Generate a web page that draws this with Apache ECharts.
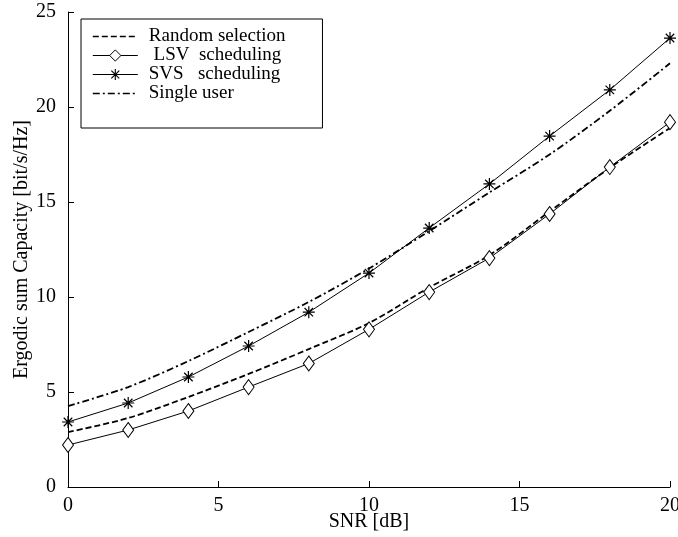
<!DOCTYPE html>
<html>
<head>
<meta charset="utf-8">
<script src="https://cdn.jsdelivr.net/npm/echarts@6/dist/echarts.min.js"></script>
<style>html,body{margin:0;padding:0;background:#fff;}#c{width:678px;height:537px;}</style>
</head>
<body>
<div id="c"></div>
<script>
var snr = [0, 2, 4, 6, 8, 10, 12, 14, 16, 18, 20];
var randomSel = [2.89, 3.63, 4.74, 5.95, 7.26, 8.63, 10.5, 12.2, 14.5, 16.8, 18.9];
var lsv = [2.21, 3.0, 4.0, 5.26, 6.5, 8.3, 10.26, 12.05, 14.37, 16.84, 19.2];
var svs = [3.42, 4.42, 5.79, 7.42, 9.2, 11.26, 13.63, 15.95, 18.47, 20.9, 23.63];
var single = [4.26, 5.26, 6.63, 8.16, 9.74, 11.5, 13.47, 15.5, 17.5, 19.8, 22.3];
var seriesNames = ['Random selection', ' LSV  scheduling', 'SVS   scheduling', 'Single user'];
var xTicks = [0, 5, 10, 15, 20];
var yTicks = [0, 5, 10, 15, 20, 25];

function pairs(ys) { return snr.map(function (x, i) { return [x, ys[i]]; }); }

var FONT = 'Liberation Serif';
var star = 'path://M9.1,1 L10.9,1 L10.9,19 L9.1,19 Z M1,9.1 L19,9.1 L19,10.9 L1,10.9 Z M4.28,3 L17,15.72 L15.72,17 L3,4.28 Z M15.72,3 L17,4.28 L4.28,17 L3,15.72 Z';

var chart = echarts.init(document.getElementById('c'), null, {renderer: 'canvas'});
chart.setOption({
  backgroundColor: '#fff',
  animation: false,
  textStyle: {fontFamily: FONT, color: '#000'},
  grid: {left: 68, right: 8, top: 12, bottom: 50, containLabel: false, outerBoundsMode: 'none'},
  legend: {
    orient: 'vertical',
    left: 81, top: 19,
    padding: [8, 37, 25, 11],
    borderColor: '#000', borderWidth: 1,
    backgroundColor: '#fff',
    itemWidth: 45, itemHeight: 14, itemGap: 0,
    textStyle: {fontFamily: FONT, fontSize: 19, color: '#000', lineHeight: 18, padding: [0, 0, 0, 6]},
    data: [
      {name: seriesNames[0], lineStyle: {width: 1.6}},
      {name: seriesNames[1], lineStyle: {width: 1}, itemStyle: {borderWidth: 1, borderColor: '#000', color: '#fff'}},
      {name: seriesNames[2], lineStyle: {width: 1}, itemStyle: {borderWidth: 0}},
      {name: seriesNames[3], lineStyle: {width: 1.6}}
    ]
  },
  xAxis: {
    type: 'value', min: 0, max: 20, interval: 5,
    name: 'SNR [dB]', nameLocation: 'middle', nameGap: 25, nameMoveOverlap: false,
    nameTextStyle: {fontFamily: FONT, fontSize: 20, color: '#000'},
    axisLine: {lineStyle: {color: '#000', width: 1}},
    axisTick: {inside: true, length: 6, lineStyle: {color: '#000'}},
    axisLabel: {margin: 9, fontFamily: FONT, fontSize: 20, color: '#000',
      formatter: function (v) { return xTicks.indexOf(v) >= 0 ? String(v) : ''; }},
    splitLine: {show: false}
  },
  yAxis: {
    type: 'value', min: 0, max: 25, interval: 5,
    name: 'Ergodic sum Capacity [bit/s/Hz]', nameLocation: 'middle', nameGap: 36, nameMoveOverlap: false,
    nameTextStyle: {fontFamily: FONT, fontSize: 20, color: '#000'},
    axisLine: {show: true, lineStyle: {color: '#000', width: 1}},
    axisTick: {show: true, inside: true, length: 6, lineStyle: {color: '#000'}},
    axisLabel: {margin: 12, fontFamily: FONT, fontSize: 20, color: '#000',
      formatter: function (v) { return yTicks.indexOf(v) >= 0 ? String(v) : ''; }},
    splitLine: {show: false}
  },
  series: [
    {
      name: seriesNames[0], type: 'line', data: pairs(randomSel),
      symbol: 'circle', showSymbol: false, smooth: 0.3,
      lineStyle: {color: '#000', width: 1.8, type: [6, 3]},
      itemStyle: {color: 'rgba(0,0,0,0)'}
    },
    {
      name: seriesNames[1], type: 'line', data: pairs(lsv),
      symbol: 'diamond', symbolSize: [11, 15],
      lineStyle: {color: '#000', width: 1},
      itemStyle: {color: '#fff', borderColor: '#000', borderWidth: 1}
    },
    {
      name: seriesNames[2], type: 'line', data: pairs(svs),
      symbol: star, symbolSize: 12, symbolKeepAspect: true,
      lineStyle: {color: '#000', width: 1},
      itemStyle: {color: '#000'}
    },
    {
      name: seriesNames[3], type: 'line', data: pairs(single),
      symbol: 'circle', showSymbol: false, smooth: 0.3,
      lineStyle: {color: '#000', width: 1.8, type: [7, 3, 2, 3]},
      itemStyle: {color: 'rgba(0,0,0,0)'}
    }
  ]
});
</script>
</body>
</html>
